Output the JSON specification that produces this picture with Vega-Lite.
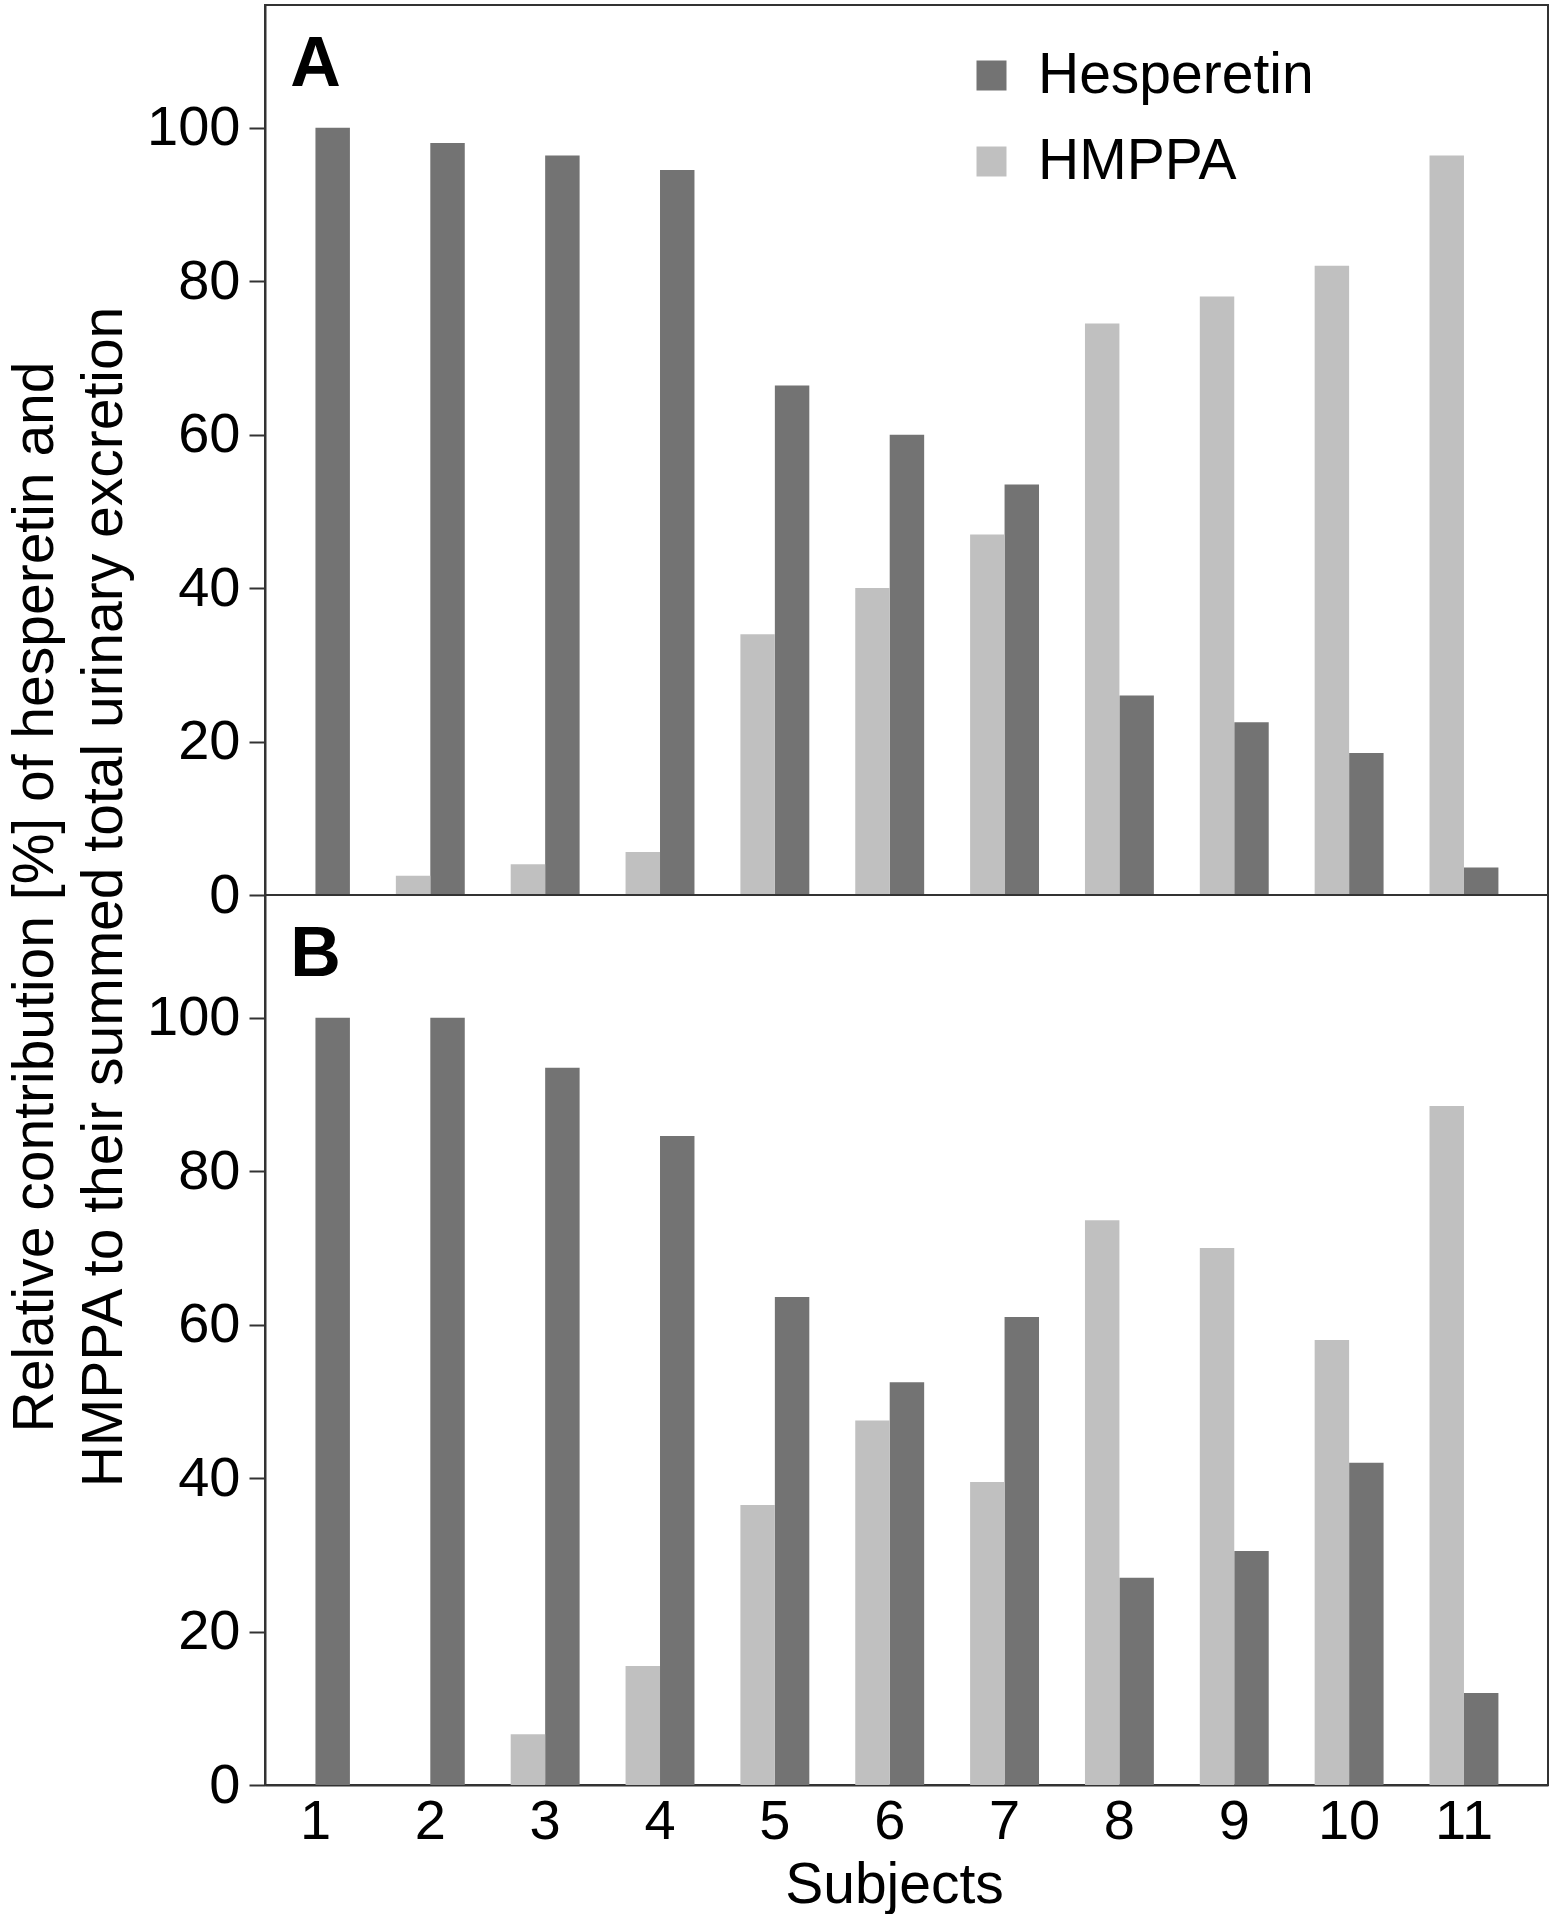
{
  "$schema": "https://vega.github.io/schema/vega-lite/v6.json",
  "background": "white",
  "padding": {"left": 6, "top": 4, "right": 1, "bottom": 0},
  "bounds": "flush",
  "title": {
    "text": ["Relative contribution [%] of hesperetin and", "HMPPA to their summed total urinary excretion"],
    "orient": "left",
    "anchor": "middle",
    "font": "Liberation Sans",
    "fontSize": 57,
    "fontWeight": "normal",
    "color": "black",
    "lineHeight": 69,
    "offset": 12,
    "dx": 62
  },
  "datasets": {
    "bars": [
      {"panel": "A", "subject": 1, "compound": "Hesperetin", "value": 100},
      {"panel": "A", "subject": 1, "compound": "HMPPA", "value": 0},
      {"panel": "A", "subject": 2, "compound": "Hesperetin", "value": 98.0},
      {"panel": "A", "subject": 2, "compound": "HMPPA", "value": 2.5},
      {"panel": "A", "subject": 3, "compound": "Hesperetin", "value": 96.4},
      {"panel": "A", "subject": 3, "compound": "HMPPA", "value": 4.0},
      {"panel": "A", "subject": 4, "compound": "Hesperetin", "value": 94.5},
      {"panel": "A", "subject": 4, "compound": "HMPPA", "value": 5.6},
      {"panel": "A", "subject": 5, "compound": "Hesperetin", "value": 66.4},
      {"panel": "A", "subject": 5, "compound": "HMPPA", "value": 34.0},
      {"panel": "A", "subject": 6, "compound": "Hesperetin", "value": 60.0},
      {"panel": "A", "subject": 6, "compound": "HMPPA", "value": 40.0},
      {"panel": "A", "subject": 7, "compound": "Hesperetin", "value": 53.5},
      {"panel": "A", "subject": 7, "compound": "HMPPA", "value": 47.0},
      {"panel": "A", "subject": 8, "compound": "Hesperetin", "value": 26.0},
      {"panel": "A", "subject": 8, "compound": "HMPPA", "value": 74.5},
      {"panel": "A", "subject": 9, "compound": "Hesperetin", "value": 22.5},
      {"panel": "A", "subject": 9, "compound": "HMPPA", "value": 78.0},
      {"panel": "A", "subject": 10, "compound": "Hesperetin", "value": 18.5},
      {"panel": "A", "subject": 10, "compound": "HMPPA", "value": 82.0},
      {"panel": "A", "subject": 11, "compound": "Hesperetin", "value": 3.6},
      {"panel": "A", "subject": 11, "compound": "HMPPA", "value": 96.4},
      {"panel": "B", "subject": 1, "compound": "Hesperetin", "value": 100},
      {"panel": "B", "subject": 1, "compound": "HMPPA", "value": 0},
      {"panel": "B", "subject": 2, "compound": "Hesperetin", "value": 100},
      {"panel": "B", "subject": 2, "compound": "HMPPA", "value": 0},
      {"panel": "B", "subject": 3, "compound": "Hesperetin", "value": 93.5},
      {"panel": "B", "subject": 3, "compound": "HMPPA", "value": 6.6},
      {"panel": "B", "subject": 4, "compound": "Hesperetin", "value": 84.6},
      {"panel": "B", "subject": 4, "compound": "HMPPA", "value": 15.5},
      {"panel": "B", "subject": 5, "compound": "Hesperetin", "value": 63.6},
      {"panel": "B", "subject": 5, "compound": "HMPPA", "value": 36.5},
      {"panel": "B", "subject": 6, "compound": "Hesperetin", "value": 52.5},
      {"panel": "B", "subject": 6, "compound": "HMPPA", "value": 47.5},
      {"panel": "B", "subject": 7, "compound": "Hesperetin", "value": 61.0},
      {"panel": "B", "subject": 7, "compound": "HMPPA", "value": 39.5},
      {"panel": "B", "subject": 8, "compound": "Hesperetin", "value": 27.0},
      {"panel": "B", "subject": 8, "compound": "HMPPA", "value": 73.6},
      {"panel": "B", "subject": 9, "compound": "Hesperetin", "value": 30.5},
      {"panel": "B", "subject": 9, "compound": "HMPPA", "value": 70.0},
      {"panel": "B", "subject": 10, "compound": "Hesperetin", "value": 42.0},
      {"panel": "B", "subject": 10, "compound": "HMPPA", "value": 58.0},
      {"panel": "B", "subject": 11, "compound": "Hesperetin", "value": 12.0},
      {"panel": "B", "subject": 11, "compound": "HMPPA", "value": 88.5}
    ],
    "labels": [
      {"panel": "A", "subject": 1, "value": 108.2},
      {"panel": "B", "subject": 1, "value": 108.2}
    ]
  },
  "spacing": 0,
  "resolve": {"legend": {"color": "independent"}},
  "vconcat": [
    {
      "width": 1283,
      "height": 890,
      "layer": [
        {
          "data": {"name": "bars"},
          "transform": [{"filter": "datum.panel === 'A'"}],
          "mark": {"type": "bar"},
          "encoding": {
            "x": {"field": "subject", "type": "ordinal", "scale": {"paddingInner": 0.4, "paddingOuter": 0.2855, "align": 0.244}, "axis": null},
            "xOffset": {"field": "compound", "type": "nominal", "sort": ["HMPPA", "Hesperetin"], "scale": {"paddingInner": 0, "paddingOuter": 0}},
            "y": {"field": "value", "type": "quantitative", "scale": {"domain": [0, 116], "nice": false, "zero": true},
              "axis": {"title": null, "values": [0, 20, 40, 60, 80, 100], "tickSize": 16, "labelPadding": 9, "labelFontSize": 56, "labelOverlap": false, "labelFlush": false}},
            "color": {"field": "compound", "type": "nominal",
              "scale": {"domain": ["Hesperetin", "HMPPA"], "range": ["#737373", "#c0c0c0"]},
              "legend": {"orient": "none", "legendX": 698, "legendY": 42, "title": null, "symbolType": "square", "symbolSize": 900, "symbolStrokeWidth": 0, "symbolOpacity": 1, "labelFontSize": 57, "labelFont": "Liberation Sans", "labelColor": "black", "labelLimit": 600, "rowPadding": 28, "labelOffset": 18}}
          }
        },
        {
          "data": {"name": "labels"},
          "transform": [{"filter": "datum.panel === 'A'"}],
          "mark": {"type": "text", "font": "Liberation Sans", "fontSize": 70, "fontWeight": "bold", "color": "black", "align": "center", "baseline": "middle"},
          "encoding": {
            "x": {"field": "subject", "type": "ordinal"},
            "y": {"field": "value", "type": "quantitative"},
            "text": {"field": "panel"}
          }
        }
      ]
    },
    {
      "width": 1283,
      "height": 890,
      "layer": [
        {
          "data": {"name": "bars"},
          "transform": [{"filter": "datum.panel === 'B'"}],
          "mark": {"type": "bar"},
          "encoding": {
            "x": {"field": "subject", "type": "ordinal", "scale": {"paddingInner": 0.4, "paddingOuter": 0.2855, "align": 0.244},
              "axis": {"title": "Subjects", "labelAngle": 0, "labelFontSize": 56, "ticks": false, "tickSize": 0, "labelPadding": 9, "titleFontSize": 57, "titleFontWeight": "normal", "titlePadding": 8, "titleX": 629}},
            "xOffset": {"field": "compound", "type": "nominal", "sort": ["HMPPA", "Hesperetin"], "scale": {"paddingInner": 0, "paddingOuter": 0}},
            "y": {"field": "value", "type": "quantitative", "scale": {"domain": [0, 116], "nice": false, "zero": true},
              "axis": {"title": null, "values": [0, 20, 40, 60, 80, 100], "tickSize": 16, "labelPadding": 9, "labelFontSize": 56, "labelOverlap": false, "labelFlush": false}},
            "color": {"field": "compound", "type": "nominal",
              "scale": {"domain": ["Hesperetin", "HMPPA"], "range": ["#737373", "#c0c0c0"]},
              "legend": null}
          }
        },
        {
          "data": {"name": "labels"},
          "transform": [{"filter": "datum.panel === 'B'"}],
          "mark": {"type": "text", "font": "Liberation Sans", "fontSize": 70, "fontWeight": "bold", "color": "black", "align": "center", "baseline": "middle"},
          "encoding": {
            "x": {"field": "subject", "type": "ordinal"},
            "y": {"field": "value", "type": "quantitative"},
            "text": {"field": "panel"}
          }
        }
      ]
    }
  ],
  "config": {
    "font": "Liberation Sans",
    "view": {"stroke": "#333333", "strokeWidth": 2},
    "axis": {"grid": false, "domainColor": "#333333", "domainWidth": 2, "tickColor": "#333333", "tickWidth": 2, "labelFont": "Liberation Sans", "titleFont": "Liberation Sans", "labelColor": "black", "titleColor": "black"}
  }
}
